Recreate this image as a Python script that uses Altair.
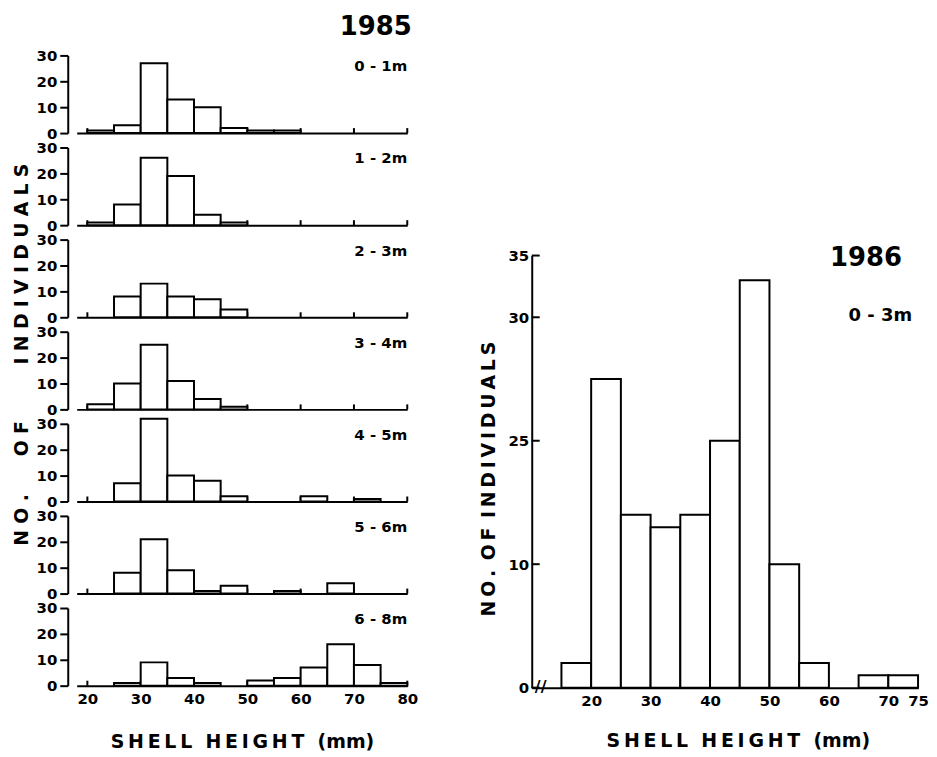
import altair as alt
import pandas as pd

# ---------------- data ----------------
BIN = 5
bins_1985 = [20, 25, 30, 35, 40, 45, 50, 55, 60, 65, 70, 75]
depths_1985 = ["0 - 1m", "1 - 2m", "2 - 3m", "3 - 4m", "4 - 5m", "5 - 6m", "6 - 8m"]
counts_0_1 = [1, 3, 27, 13, 10, 2, 1, 1, 0, 0, 0, 0]
counts_1_2 = [1, 8, 26, 19, 4, 1, 0, 0, 0, 0, 0, 0]
counts_2_3 = [0, 8, 13, 8, 7, 3, 0, 0, 0, 0, 0, 0]
counts_3_4 = [2, 10, 25, 11, 4, 1, 0, 0, 0, 0, 0, 0]
counts_4_5 = [0, 7, 32, 10, 8, 2, 0, 0, 2, 0, 1, 0]
counts_5_6 = [0, 8, 21, 9, 1, 3, 0, 1, 0, 4, 0, 0]
counts_6_8 = [0, 1, 9, 3, 1, 0, 2, 3, 7, 16, 8, 1]
counts_1985 = [counts_0_1, counts_1_2, counts_2_3, counts_3_4, counts_4_5, counts_5_6, counts_6_8]
x_ticks_1985 = [20, 30, 40, 50, 60, 70, 80]
y_ticks_1985 = [0, 10, 20, 30]

bins_1986 = [15, 20, 25, 30, 35, 40, 45, 50, 55, 60, 65, 70]
counts_1986 = [2, 25, 14, 13, 14, 20, 33, 10, 2, 0, 1, 1]
x_ticks_1986 = [20, 30, 40, 50, 60, 70, 75]
y_ticks_1986 = [0, 10, 20, 30, 35]
y_labels_1986 = ["0", "10", "25", "30", "35"]

FONT = "DejaVu Sans"
THIN = "\u2009"
THREE = "\u2004"
EN = "\u2002"
EM = "\u2003"
ZWSP = "\u200b"


def spaced(text, sep, gap=EM):
    words = text.split(" ")
    return gap.join(sep.join(list(w)) for w in words)


X_TITLE = spaced("SHELL HEIGHT", THIN, EN + THIN) + EN + THIN + "(mm)"


# ---------------- 1985 panels ----------------
def panel(label, counts, bottom):
    df = pd.DataFrame({"lo": bins_1985, "hi": [b + BIN for b in bins_1985], "n": counts})
    df = df[df["n"] > 0]
    xscale = alt.Scale(domain=[18, 80], nice=False, zero=False)
    yscale = alt.Scale(domain=[0, 30], nice=False)
    if bottom:
        xaxis = alt.Axis(values=x_ticks_1985, ticks=False, labelPadding=6, labelOverlap=False,
                         domainWidth=2, titlePadding=26, titleFontSize=19, grid=False)
        xkw = {"title": X_TITLE}
    else:
        xaxis = alt.Axis(values=x_ticks_1985, ticks=False, labels=False, domainWidth=2,
                         grid=False, titlePadding=0)
        xkw = {"title": ""}
    yaxis = alt.Axis(values=y_ticks_1985, tickSize=8, labelPadding=3, offset=9,
                     domainWidth=2, tickWidth=2, grid=False)
    ticks = alt.Chart(pd.DataFrame({"t": x_ticks_1985})).mark_rule(
        color="black", strokeWidth=2).encode(
        x=alt.X("t:Q", scale=xscale, axis=xaxis, **xkw),
        y=alt.value(78), y2=alt.value(73))
    bars = alt.Chart(df).mark_rect(fill="white", stroke="black", strokeWidth=2,
                                   clip=False).encode(
        x=alt.X("lo:Q", scale=xscale, axis=xaxis, **xkw),
        x2="hi:Q",
        y=alt.Y("n:Q", scale=yscale, axis=yaxis, title=""),
        y2=alt.datum(0))
    txt = alt.Chart(pd.DataFrame({"t": [label]})).mark_text(
        align="right", baseline="middle", font=FONT, fontWeight="bold",
        fontSize=15, color="black").encode(
        x=alt.value(332), y=alt.value(11), text="t:N")
    return alt.layer(ticks, bars, txt).properties(width=332, height=78)


panels = [panel(lab, c, i == len(depths_1985) - 1)
          for i, (lab, c) in enumerate(zip(depths_1985, counts_1985))]
left = alt.vconcat(*panels, spacing=14.5, bounds="flush").properties(
    title=alt.TitleParams("1985", anchor="end", fontSize=26, font=FONT,
                          fontWeight="bold", offset=8, dx=-6, color="black"))

# ---------------- 1986 panel ----------------
df86 = pd.DataFrame({"lo": bins_1986, "hi": [b + BIN for b in bins_1986], "n": counts_1986})
df86 = df86[df86["n"] > 0]
expr = "datum.label"
for v, l in reversed(list(zip(y_ticks_1986, y_labels_1986))):
    expr = f"datum.value === {v} ? '{l}' : ({expr})"

W86 = 388
xs86 = alt.Scale(domain=[10, 75], nice=False, zero=False)
ys86 = alt.Scale(domain=[0, 35], nice=False)
bars86 = alt.Chart(df86).mark_rect(fill="white", stroke="black", strokeWidth=2).encode(
    x=alt.X("lo:Q", scale=xs86,
            axis=alt.Axis(values=x_ticks_1986, ticks=False, labelPadding=6, domainWidth=2,
                          labelOverlap=False, titlePadding=23, titleFontSize=19,
                          titleX=207, grid=False),
            title=X_TITLE),
    x2="hi:Q",
    y=alt.Y("n:Q", scale=ys86,
            axis=alt.Axis(values=y_ticks_1986, labelExpr=expr, ticks=False, labelPadding=3,
                          domainWidth=2, grid=False, titlePadding=10, titleFontSize=19,
                          titleY=224),
            title=spaced("NO. OF INDIVIDUALS", THIN, EN)),
    y2=alt.datum(0))
yt86 = alt.Chart(pd.DataFrame({"v": y_ticks_1986})).mark_rule(
    color="black", strokeWidth=2).encode(
    y=alt.Y("v:Q", scale=ys86), x=alt.value(0), x2=alt.value(8))
brk = alt.Chart(pd.DataFrame({"t": ["//"]})).mark_text(
    font=FONT, fontWeight="bold", fontSize=16, color="black").encode(
    x=alt.value(9), y=alt.value(433), text="t:N")
yr = alt.Chart(pd.DataFrame({"t": ["1986"]})).mark_text(
    align="right", baseline="middle", font=FONT, fontWeight="bold", fontSize=26,
    color="black").encode(x=alt.value(372), y=alt.value(3), text="t:N")
dep = alt.Chart(pd.DataFrame({"t": ["0 - 3m"]})).mark_text(
    align="right", baseline="middle", font=FONT, fontWeight="bold", fontSize=18,
    color="black").encode(x=alt.value(382), y=alt.value(61), text="t:N")
right_chart = alt.layer(bars86, yt86, brk, yr, dep).properties(width=W86, height=434)

spacer = alt.Chart(pd.DataFrame({"a": [0]})).mark_point(opacity=0).encode(
    x=alt.X("a:Q", axis=None), y=alt.Y("a:Q", axis=None)).properties(width=W86, height=191)
right = alt.vconcat(spacer, right_chart, spacing=0)

left_title = (ZWSP + EM * 3 + spaced("NO.", THREE) + EM * 2 + spaced("OF", THREE) + EM * 3
              + spaced("INDIVIDUALS", THREE))

chart = alt.hconcat(left, right, spacing=61).properties(
    title=alt.TitleParams(left_title, orient="left", anchor="middle", fontSize=19,
                          font=FONT, fontWeight="bold", offset=4, color="black"),
    padding={"left": 5, "top": 5, "right": 0, "bottom": 0}
).configure(background="white").configure_view(stroke=None).configure_axis(
    labelFont=FONT, labelFontWeight="bold", labelFontSize=15, labelColor="black",
    titleFont=FONT, titleFontWeight="bold", titleColor="black",
    domainColor="black", tickColor="black", grid=False, labelFlush=False
)

chart.save("out.html", embed_options={"renderer": "svg", "actions": False})
